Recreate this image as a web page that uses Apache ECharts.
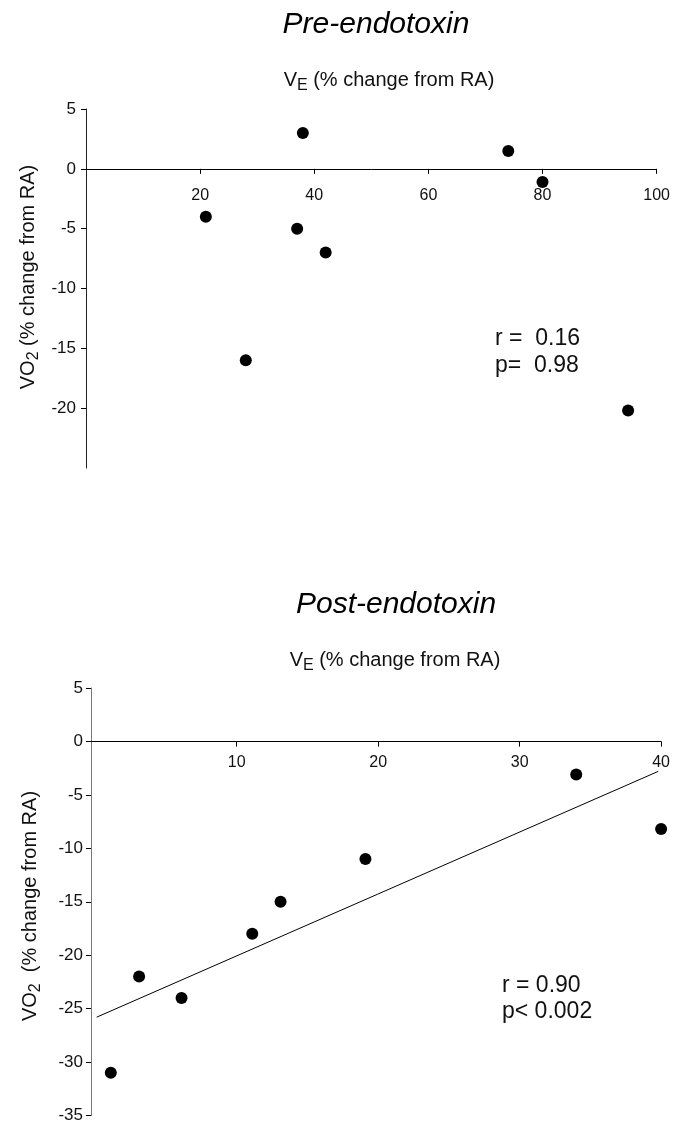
<!DOCTYPE html>
<html>
<head>
<meta charset="utf-8">
<script src="https://cdn.jsdelivr.net/npm/echarts@6/dist/echarts.min.js"></script>
<style>
html,body{margin:0;padding:0;background:#fff;}
#c{width:673px;height:1124px;}
</style>
</head>
<body>
<div id="c"></div>
<script>
// ---- data ----
const preX = [21, 28, 37, 38, 42, 74, 80, 95];
const preY = [-4, -16, -5, 3, -7, 1.5, -1.1, -20.2];
const postX = [1.1, 3.1, 6.1, 11.1, 13.1, 19.1, 34, 40];
const postY = [-31, -22, -24, -18, -15, -11, -3.1, -8.2];
const postFitX = [0.1, 39.8];
const postFitY = [-25.8, -2.8];
const preXTicks = [20, 40, 60, 80, 100];
const preYTicks = [5, 0, -5, -10, -15, -20];
const postXTicks = [10, 20, 30, 40];
const postYTicks = [5, 0, -5, -10, -15, -20, -25, -30, -35];
const titles = ['Pre-endotoxin', 'Post-endotoxin'];
const preStats = ['r =  0.16', 'p=  0.98'];
const postStats = ['r = 0.90', 'p< 0.002'];

const FONT = "'Liberation Sans', Arial, Helvetica, sans-serif";
const zip = (xs, ys) => xs.map((x, i) => [x, ys[i]]);

// layout (pixels)
const grids = [
  {left: 86, top: 109, width: 575, height: 359},
  {left: 91, top: 688, width: 575, height: 429}
];
const yRanges = [[-25, 5], [-35, 5]];

function richName(main, sub, rest, size) {
  return {
    text: '{a|' + main + '}{b|' + sub + '}{a|' + rest + '}',
    rich: {
      a: {fontSize: size, fontFamily: FONT, fill: '#111', lineHeight: size + 4},
      b: {fontSize: size - 4, fontFamily: FONT, fill: '#111', lineHeight: size - 4, padding: [11, 0, 0, 0]}
    },
    align: 'center',
    verticalAlign: 'middle'
  };
}

// x axis drawn across the y = 0 level: placed at the top of the grid and shifted down to zero
function xAxisCfg(g, min, max, ticks, margin) {
  const yr = yRanges[g];
  const zeroOffset = grids[g].height * (yr[1] - 0) / (yr[1] - yr[0]);
  return {
    type: 'value', gridIndex: g, min: min, max: max,
    position: 'top', offset: -zeroOffset,
    axisLine: {onZero: false, lineStyle: {color: '#000', width: 1}},
    axisTick: {show: true, inside: true, length: 5, customValues: ticks, lineStyle: {color: '#000'}},
    axisLabel: {inside: true, customValues: ticks, margin: margin, fontSize: 16, fontFamily: FONT, color: '#111'},
    splitLine: {show: false}
  };
}
function yAxisCfg(g, ticks, margin, lineColor) {
  return {
    type: 'value', gridIndex: g, min: yRanges[g][0], max: yRanges[g][1],
    axisLine: {show: true, onZero: false, lineStyle: {color: lineColor, width: 1}},
    axisTick: {show: true, length: 5, customValues: ticks, lineStyle: {color: '#000'}},
    axisLabel: {customValues: ticks, margin: margin, fontSize: 17, fontFamily: FONT, color: '#111'},
    splitLine: {show: false}
  };
}

const chart = echarts.init(document.getElementById('c'), null, {renderer: 'canvas'});
chart.setOption({
  animation: false,
  backgroundColor: '#fff',
  grid: grids,
  xAxis: [
    xAxisCfg(0, 0, 100, preXTicks, 19),
    xAxisCfg(1, -0.3, 40, postXTicks, 13)
  ],
  yAxis: [
    yAxisCfg(0, preYTicks, 10, '#222'),
    yAxisCfg(1, postYTicks, 8, '#777')
  ],
  series: [
    {type: 'scatter', xAxisIndex: 0, yAxisIndex: 0, data: zip(preX, preY),
     symbol: 'circle', symbolSize: 12, itemStyle: {color: '#000', opacity: 1}},
    {type: 'scatter', xAxisIndex: 1, yAxisIndex: 1, data: zip(postX, postY),
     symbol: 'circle', symbolSize: 12, itemStyle: {color: '#000', opacity: 1}},
    {type: 'line', xAxisIndex: 1, yAxisIndex: 1, data: zip(postFitX, postFitY),
     symbol: 'none', lineStyle: {color: '#000', width: 1}, silent: true}
  ],
  graphic: [
    {type: 'text', x: 376, y: 25, style: {text: titles[0], fontSize: 30, fontStyle: 'italic', fontFamily: FONT, fill: '#000', align: 'center', verticalAlign: 'middle'}},
    {type: 'text', x: 396, y: 605, style: {text: titles[1], fontSize: 30, fontStyle: 'italic', fontFamily: FONT, fill: '#000', align: 'center', verticalAlign: 'middle'}},
    {type: 'text', x: 389, y: 80, style: richName('V', 'E', ' (% change from RA)', 20)},
    {type: 'text', x: 395, y: 660, style: richName('V', 'E', ' (% change from RA)', 20)},
    {type: 'text', x: 28, y: 277, rotation: Math.PI / 2, style: richName('VO', '2', ' (% change from RA)', 20)},
    {type: 'text', x: 30, y: 906, rotation: Math.PI / 2, style: richName('VO', '2', '  (% change from RA)', 20)},
    {type: 'text', x: 495, y: 339, style: {text: preStats[0], fontSize: 23, fontFamily: FONT, fill: '#111', align: 'left', verticalAlign: 'middle'}},
    {type: 'text', x: 495, y: 366, style: {text: preStats[1], fontSize: 23, fontFamily: FONT, fill: '#111', align: 'left', verticalAlign: 'middle'}},
    {type: 'text', x: 502, y: 986, style: {text: postStats[0], fontSize: 23, fontFamily: FONT, fill: '#111', align: 'left', verticalAlign: 'middle'}},
    {type: 'text', x: 502, y: 1012, style: {text: postStats[1], fontSize: 23, fontFamily: FONT, fill: '#111', align: 'left', verticalAlign: 'middle'}}
  ]
});
</script>
</body>
</html>
